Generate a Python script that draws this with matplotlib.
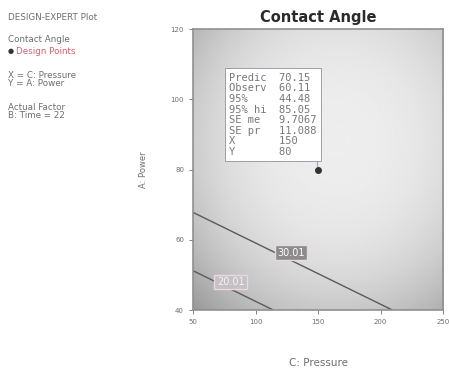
import numpy as np
import matplotlib.pyplot as plt

# design space (actual units)
pressure_range = [50, 250]
power_range = [40, 120]
x_ticks = [50, 100, 150, 200, 250]
y_ticks = [40, 60, 80, 100, 120]

# fitted response, linear in C: Pressure and A: Power (B: Time held at 22)
b0, bC, bA = -16.06, 0.105, 0.602
contour_levels = [20.01, 30.01]
label_pos = [(80, 48.0), (128.5, 56.3)]

# design point and its flag
design_x = [150]
design_y = [80]
flag_rows = ['Predic', 'Observ', '95%', '95% hi', 'SE me', 'SE pr', 'X', 'Y']
flag_vals = ['70.15', '60.11', '44.48', '85.05', '9.7067', '11.088', '150', '80']

grey = '#6e6e6e'

fig = plt.figure(figsize=(4.49, 3.74), dpi=100)
ax = fig.add_axes([0.430, 0.171, 0.557, 0.751])

# shaded backdrop, light in the middle and darker toward the frame
u, v = np.meshgrid(np.linspace(-1, 1, 300), np.linspace(-1, 1, 300))
shade = 0.93 - 0.09 * ((u - 0.15) ** 2 + (v - 0.2) ** 2) ** 1.3
ax.imshow(shade, extent=pressure_range + power_range, origin='lower', cmap='gray',
          vmin=0, vmax=1, aspect='auto', zorder=0, interpolation='bilinear')

cc, aa = np.meshgrid(np.linspace(*pressure_range, 200), np.linspace(*power_range, 200))
resp = b0 + bC * cc + bA * aa
ax.contour(cc, aa, resp, levels=contour_levels, colors='#5a5a5a', linewidths=1.0, zorder=2)
for lev, (lx, ly), face, tc in zip(contour_levels, label_pos, ['#c4c0c4', '#8c8c8c'],
                                   ['#f4f4f4', 'white']):
    ax.text(lx, ly, f'{lev:.2f}', fontsize=7, color=tc, ha='center', va='center', zorder=3,
            bbox=dict(boxstyle='square,pad=0.25', fc=face, ec='#ead8e2', lw=1.0))

ax.plot(design_x, design_y, 'o', color='#333333', ms=4, zorder=5)

flag = '\n'.join(f'{r:<8}{v}' for r, v in zip(flag_rows, flag_vals))
ax.annotate(flag, xy=(design_x[0], design_y[0]), xytext=(-1, 9), textcoords='offset points',
            ha='right', va='bottom', multialignment='left', family='DejaVu Sans Mono',
            fontsize=7.5, color='#777777', linespacing=1.08, zorder=4,
            bbox=dict(boxstyle='square,pad=0.4', fc='white', ec='#9090a8', lw=0.6),
            arrowprops=dict(arrowstyle='-', color='#9090a8', lw=0.6, relpos=(1, 0),
                            shrinkA=0, shrinkB=2))

ax.set_xlim(pressure_range)
ax.set_ylim(power_range)
ax.set_xticks(x_ticks)
ax.set_yticks(y_ticks)
ax.tick_params(labelsize=5, colors=grey, length=3, width=0.6)
for s in ax.spines.values():
    s.set_color('#909090')
    s.set_linewidth(1.2)

ax.set_title('Contact Angle', fontsize=10.5, fontweight='bold', color='#2a2a2a', pad=5)
ax.set_xlabel('C: Pressure', fontsize=7.5, color=grey, labelpad=24)
ax.set_ylabel('A: Power', fontsize=6, color=grey, labelpad=16)

# legend block on the left
side = [('DESIGN-EXPERT Plot', 17, grey), ('Contact Angle', 40, grey),
        ('X = C: Pressure', 75, grey), ('Y = A: Power', 84, grey),
        ('Actual Factor', 107, grey), ('B: Time = 22', 116, grey)]
for txt, py, col in side:
    fig.text(8 / 449, 1 - py / 374, txt, fontsize=6.3, color=col, va='center')
fig.text(8 / 449, 1 - 51 / 374, '\u25cf', fontsize=5, color='#333333', va='center')
fig.text(16 / 449, 1 - 51 / 374, 'Design Points', fontsize=6.3, color='#d06070', va='center')

fig.savefig('out.png', dpi=100)
